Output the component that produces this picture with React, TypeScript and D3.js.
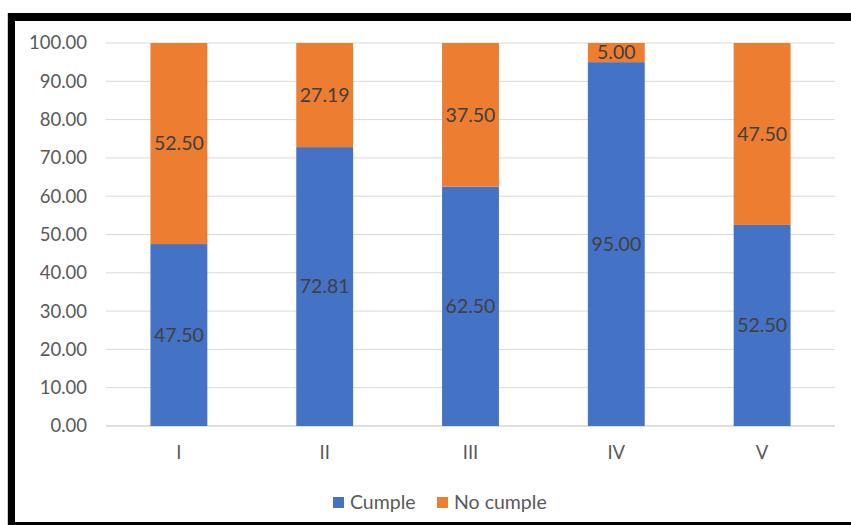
import React from "react";
import * as d3 from "d3";

const categories = ["I", "II", "III", "IV", "V"];
const cumple = [47.5, 72.81, 62.5, 95.0, 52.5];
const noCumple = [52.5, 27.19, 37.5, 5.0, 47.5];
const yTicks = [0, 10, 20, 30, 40, 50, 60, 70, 80, 90, 100];
const seriesNames = ["Cumple", "No cumple"];
const colors = ["#4472C4", "#ED7D31"];

export default function App() {
  const W = 851, H = 525;
  const left = 106, right = 835, top = 43, bottom = 426;
  const x = d3.scaleBand<string>().domain(categories).range([left, right]).paddingInner(0.61).paddingOuter(0.305);
  const y = d3.scaleLinear().domain([0, 100]).range([bottom, top]);
  const font = "Lato, 'Open Sans', sans-serif";
  const series = [cumple, noCumple];
  return (
    <svg width={W} height={H} style={{ position: "absolute", left: 0, top: 0, background: "#fff" }} fontFamily={font}>
      <rect x={0} y={0} width={W} height={H} fill="#fff" />
      {/* frame */}
      <rect x={7} y={13} width={1} height={512} fill="#d0d0d0" />
      <rect x={8} y={13} width={W - 8} height={8} fill="#000" />
      <rect x={8} y={13} width={7} height={512} fill="#000" />
      <rect x={8} y={522} width={W - 8} height={3} fill="#000" />
      {yTicks.map((t) => (
        <g key={t}>
          <line x1={left} x2={right} y1={y(t)} y2={y(t)} stroke={t === 0 ? "#bfbfbf" : "#d9d9d9"} strokeWidth={1} />
          <text x={87} y={y(t)} dy="0.35em" textAnchor="end" fontSize={18.5} fill="#595959">
            {t.toFixed(2)}
          </text>
        </g>
      ))}
      {categories.map((c, i) => {
        let base = 0;
        return (
          <g key={c}>
            {series.map((s, k) => {
              const v = s[i];
              const y0 = y(base);
              const y1 = y(base + v);
              base += v;
              return (
                <g key={k}>
                  <rect x={x(c)} y={y1} width={x.bandwidth()} height={y0 - y1} fill={colors[k]} />
                  <text x={(x(c) as number) + x.bandwidth() / 2} y={(y0 + y1) / 2} dy="0.35em" textAnchor="middle" fontSize={19.5} fill="#404040">
                    {v.toFixed(2)}
                  </text>
                </g>
              );
            })}
            <text x={(x(c) as number) + x.bandwidth() / 2} y={453} dy="0.35em" textAnchor="middle" fontSize={18.5} fill="#595959">
              {c}
            </text>
          </g>
        );
      })}
      {/* legend */}
      <rect x={333} y={497} width={11} height={11} fill={colors[0]} />
      <text x={350} y={502.5} dy="0.35em" fontSize={19.5} fill="#595959">{seriesNames[0]}</text>
      <rect x={437} y={497} width={11} height={11} fill={colors[1]} />
      <text x={454} y={502.5} dy="0.35em" fontSize={19.5} fill="#595959">{seriesNames[1]}</text>
    </svg>
  );
}
